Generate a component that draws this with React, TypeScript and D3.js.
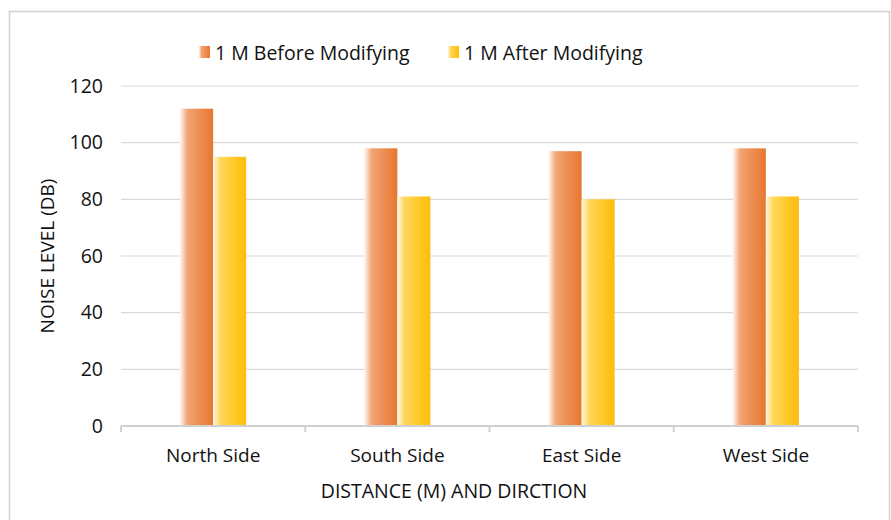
import React from "react";
import * as d3 from "d3";

const categories = ["North Side", "South Side", "East Side", "West Side"];
const beforeValues = [112, 98, 97, 98];
const afterValues = [95, 81, 80, 81];
const seriesNames = ["1 M Before Modifying", "1 M After Modifying"];
const yTicks = [0, 20, 40, 60, 80, 100, 120];

const W = 891;
const H = 520;
const plot = { left: 121, right: 858, top: 86, bottom: 426 };
const font = "'Open Sans', 'Noto Sans', sans-serif";

export default function App() {
  const x = d3.scaleBand<string>().domain(categories).range([plot.left, plot.right]);
  const y = d3.scaleLinear().domain([0, 120]).range([plot.bottom, plot.top]);
  const barW = 33;

  const series = [
    { name: seriesNames[0], values: beforeValues, grad: "gBefore", offset: -barW },
    { name: seriesNames[1], values: afterValues, grad: "gAfter", offset: 0 },
  ];

  const boundaries = [...categories.map((c) => x(c)!), plot.right];

  return (
    <svg
      width={W}
      height={H}
      style={{ position: "absolute", left: 0, top: 0 }}
      fontFamily={font}
    >
      <defs>
        <linearGradient id="gBefore" x1="0" x2="1" y1="0" y2="0">
          <stop offset="0" stopColor="#fef6f0" />
          <stop offset="0.22" stopColor="#f2a574" />
          <stop offset="0.6" stopColor="#ed8d52" />
          <stop offset="1" stopColor="#e6782f" />
        </linearGradient>
        <linearGradient id="gAfter" x1="0" x2="1" y1="0" y2="0">
          <stop offset="0" stopColor="#fff8e2" />
          <stop offset="0.22" stopColor="#ffd75e" />
          <stop offset="0.6" stopColor="#ffca2c" />
          <stop offset="1" stopColor="#fdbd0c" />
        </linearGradient>
      </defs>
      <rect x={0} y={0} width={W} height={H} fill="#fff" />
      {/* chart frame */}
      <path d={`M9.5,${H} V11.5 H889.5 V${H}`} fill="none" stroke="#d0d0d0" strokeWidth={1.5} />

      {/* gridlines */}
      {yTicks.filter((t) => t > 0).map((t) => (
        <line key={t} x1={plot.left} x2={plot.right} y1={y(t)} y2={y(t)} stroke="#d9d9d9" strokeWidth={1.2} />
      ))}

      {/* bars */}
      {series.map((s) =>
        categories.map((c, i) => {
          const cx = x(c)! + x.bandwidth() / 2;
          return (
            <rect
              key={s.name + c}
              x={cx + s.offset}
              y={y(s.values[i])}
              width={barW}
              height={y(0) - y(s.values[i])}
              fill={`url(#${s.grad})`}
            />
          );
        })
      )}

      {/* category axis */}
      <line x1={plot.left} x2={plot.right} y1={plot.bottom} y2={plot.bottom} stroke="#d0d0d0" strokeWidth={2} />
      {boundaries.map((b, i) => (
        <line key={i} x1={b} x2={b} y1={plot.bottom} y2={plot.bottom + 6} stroke="#d0d0d0" strokeWidth={2} />
      ))}

      {/* y tick labels */}
      {yTicks.map((t) => (
        <text key={t} x={103} y={y(t)} dy="0.35em" textAnchor="end" fontSize={19.5} fill="#111">
          {t}
        </text>
      ))}

      {/* x tick labels */}
      {categories.map((c) => (
        <text key={c} x={x(c)! + x.bandwidth() / 2} y={455} dy="0.35em" textAnchor="middle" fontSize={19} fill="#111">
          {c}
        </text>
      ))}

      {/* axis titles */}
      <text x={454} y={491} dy="0.35em" textAnchor="middle" fontSize={19.5} fill="#111">
        DISTANCE (M) AND DIRCTION
      </text>
      <text
        transform={`translate(47,${(plot.top + plot.bottom) / 2}) rotate(-90)`}
        dy="0.35em"
        textAnchor="middle"
        fontSize={19}
        fill="#111"
      >
        NOISE LEVEL (DB)
      </text>

      {/* legend */}
      {series.map((s, i) => {
        const lx = i === 0 ? 199 : 448;
        return (
          <g key={s.name}>
            <rect x={lx} y={46} width={11} height={12} fill={`url(#${s.grad})`} />
            <text x={lx + 16} y={53} dy="0.35em" fontSize={19.5} fill="#111">
              {s.name}
            </text>
          </g>
        );
      })}
    </svg>
  );
}
